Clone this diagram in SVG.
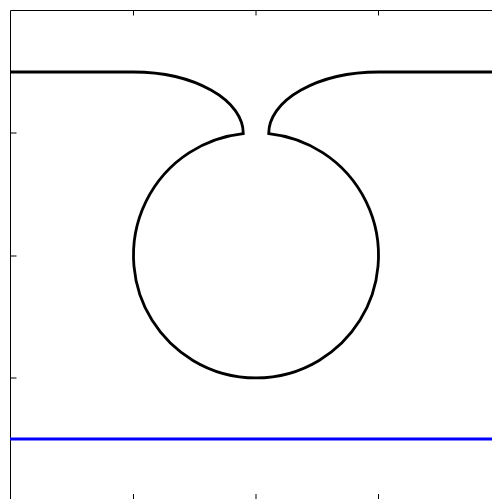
<svg xmlns="http://www.w3.org/2000/svg" width="492" height="499" viewBox="0 0 492 499">
<style>
.frame{stroke:#000;stroke-width:1;fill:none}
.tick{stroke:#000;stroke-width:1;fill:none}
.curve{stroke:#000;stroke-width:2.8;fill:none;stroke-linejoin:miter}
.blue{stroke:#0000ff;stroke-width:2.8;fill:none}
</style>
<rect width="492" height="499" fill="#fff"/>
<g id="axes">
<path class="frame" d="M10.5,499 V10.5 H492"/>
<path class="tick" d="M133.5,10.5 v5 M256,10.5 v5 M378.5,10.5 v5 M133.5,499 v-5 M256,499 v-5 M378.5,499 v-5 M10.5,133 h6 M10.5,256 h6 M10.5,378 h6"/>
</g>
<g id="shapes">
<path id="curve" class="curve" d="M10,72 H133 A110.3,61.7 0 0 1 243.3,133.6 A122.5,122.5 0 1 0 268.7,133.6 A110.3,61.7 0 0 1 379,72 H492"/>
<path id="baseline" class="blue" d="M10,439 H492"/>
</g>
</svg>
